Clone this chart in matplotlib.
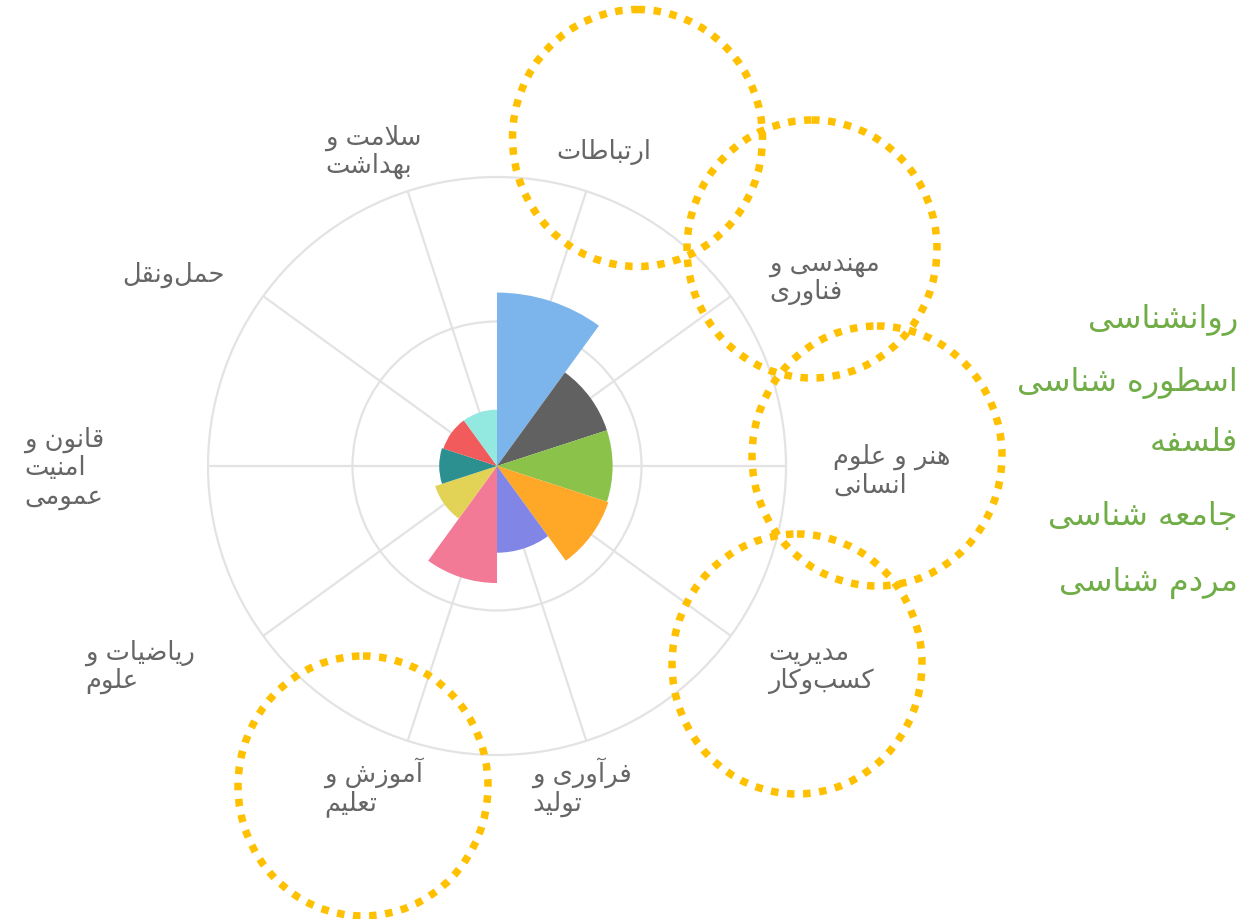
import numpy as np
import matplotlib
matplotlib.use("Agg")
import matplotlib.pyplot as plt
from matplotlib.patches import Ellipse

# ---------------- data ----------------
categories = ["ارتباطات", "مهندسی و\nفناوری", "هنر و علوم\nانسانی", "مدیریت\nکسب\u200cوکار",
              "فرآوری و\nتولید", "آموزش و\nتعلیم", "ریاضیات و\nعلوم", "قانون و\nامنیت\nعمومی",
              "حمل\u200cونقل", "سلامت و\nبهداشت"]
values = [12.0, 8.0, 8.0, 8.1, 6.0, 8.1, 4.5, 4.0, 3.9, 3.9]
colors = ["#7cb5ec", "#616161", "#8bc34a", "#ffa726", "#8085e6",
          "#f27a97", "#e2d356", "#2b908f", "#f25b5b", "#93e8e0"]
r_ticks = [10, 20]
side_list = ["روانشناسی", "اسطوره شناسی", "فلسفه", "جامعه شناسی", "مردم شناسی"]

# ---------------- layout (pixels) ----------------
W, H = 1246, 920
label_pos = [(556, 152), (769, 278), (833, 471), (768, 667), (532, 787),
             (324, 787), (85, 667), (24, 468), (122, 275), (325, 152)]
side_pos_y = [320, 383, 443, 517, 583]
side_right_x = 1238
highlight_circles = [(637.5, 139, 250, 257), (812, 250, 250, 258), (877, 457, 250, 260),
                     (797, 665, 250, 260), (363, 787, 250, 260)]

# ---------------- minimal Persian shaping ----------------
FORMS = {
    '\u0627': (0xFE8D, 0xFE8E, None, None), '\u0622': (0xFE81, 0xFE82, None, None),
    '\u0628': (0xFE8F, 0xFE90, 0xFE91, 0xFE92), '\u067E': (0xFB56, 0xFB57, 0xFB58, 0xFB59),
    '\u062A': (0xFE95, 0xFE96, 0xFE97, 0xFE98), '\u062B': (0xFE99, 0xFE9A, 0xFE9B, 0xFE9C),
    '\u062C': (0xFE9D, 0xFE9E, 0xFE9F, 0xFEA0), '\u0686': (0xFB7A, 0xFB7B, 0xFB7C, 0xFB7D),
    '\u062D': (0xFEA1, 0xFEA2, 0xFEA3, 0xFEA4), '\u062E': (0xFEA5, 0xFEA6, 0xFEA7, 0xFEA8),
    '\u062F': (0xFEA9, 0xFEAA, None, None), '\u0630': (0xFEAB, 0xFEAC, None, None),
    '\u0631': (0xFEAD, 0xFEAE, None, None), '\u0632': (0xFEAF, 0xFEB0, None, None),
    '\u0698': (0xFB8A, 0xFB8B, None, None),
    '\u0633': (0xFEB1, 0xFEB2, 0xFEB3, 0xFEB4), '\u0634': (0xFEB5, 0xFEB6, 0xFEB7, 0xFEB8),
    '\u0635': (0xFEB9, 0xFEBA, 0xFEBB, 0xFEBC), '\u0636': (0xFEBD, 0xFEBE, 0xFEBF, 0xFEC0),
    '\u0637': (0xFEC1, 0xFEC2, 0xFEC3, 0xFEC4), '\u0638': (0xFEC5, 0xFEC6, 0xFEC7, 0xFEC8),
    '\u0639': (0xFEC9, 0xFECA, 0xFECB, 0xFECC), '\u063A': (0xFECD, 0xFECE, 0xFECF, 0xFED0),
    '\u0641': (0xFED1, 0xFED2, 0xFED3, 0xFED4), '\u0642': (0xFED5, 0xFED6, 0xFED7, 0xFED8),
    '\u06A9': (0xFB8E, 0xFB8F, 0xFB90, 0xFB91), '\u06AF': (0xFB92, 0xFB93, 0xFB94, 0xFB95),
    '\u0644': (0xFEDD, 0xFEDE, 0xFEDF, 0xFEE0), '\u0645': (0xFEE1, 0xFEE2, 0xFEE3, 0xFEE4),
    '\u0646': (0xFEE5, 0xFEE6, 0xFEE7, 0xFEE8), '\u0647': (0xFEE9, 0xFEEA, 0xFEEB, 0xFEEC),
    '\u0648': (0xFEED, 0xFEEE, None, None), '\u06CC': (0xFBFC, 0xFBFD, 0xFBFE, 0xFBFF),
}
LAM_ALEF = {'\u0627': (0xFEFB, 0xFEFC), '\u0622': (0xFEF5, 0xFEF6)}


def _dual(c):
    return c in FORMS and FORMS[c][2] is not None


def shape_line(s):
    chars = list(s)
    n = len(chars)
    out = []
    i = 0
    while i < n:
        c = chars[i]
        if c not in FORMS:
            if c != '\u200c':
                out.append(c)
            i += 1
            continue
        jp = i > 0 and _dual(chars[i - 1])
        if c == '\u0644' and i + 1 < n and chars[i + 1] in LAM_ALEF:
            iso, fin = LAM_ALEF[chars[i + 1]]
            out.append(chr(fin if jp else iso))
            i += 2
            continue
        jn = _dual(c) and i + 1 < n and chars[i + 1] in FORMS
        f = FORMS[c]
        code = f[3] if (jp and jn) else f[1] if jp else f[2] if jn else f[0]
        out.append(chr(code))
        i += 1
    return ''.join(reversed(out))


def shape(s):
    return '\n'.join(shape_line(l) for l in s.split('\n'))


plt.rcParams['font.family'] = ['DejaVu Sans']

fig = plt.figure(figsize=(W / 100, H / 100), dpi=100)
fig.patch.set_facecolor('white')

# polar chart
cx, cy, R = 497, 467, 289
ax = fig.add_axes([(cx - R) / W, (H - cy - R) / H, 2 * R / W, 2 * R / H], projection='polar')
ax.set_theta_zero_location('N')
ax.set_theta_direction(-1)
n = len(values)
width = 2 * np.pi / n
theta = np.arange(n) * width + width / 2
ax.bar(theta, values, width=width, color=colors, linewidth=0, zorder=3)
ax.set_ylim(0, r_ticks[-1])
ax.set_yticks(r_ticks[:-1])
ax.set_yticklabels([])
ax.set_xticks(theta)
ax.set_xticklabels([])
ax.set_axisbelow(True)
ax.grid(True, color='#e3e3e3', linewidth=1.6)
ax.spines['polar'].set_color('#e3e3e3')
ax.spines['polar'].set_linewidth(1.6)
ax.set_facecolor('none')

# overlay in pixel coordinates
ov = fig.add_axes([0, 0, 1, 1])
ov.set_xlim(0, W)
ov.set_ylim(H, 0)
ov.axis('off')
ov.patch.set_alpha(0)

for lab, (x, y) in zip(categories, label_pos):
    ov.text(x, y, shape(lab), ha='left', va='center', multialignment='left',
            fontsize=18.5, color='#666666', linespacing=1.12)

for t, y in zip(side_list, side_pos_y):
    ov.text(side_right_x, y, shape(t), ha='right', va='center', fontsize=23, color='#70ad47')

for (ex, ey, ew, eh) in highlight_circles:
    ov.add_patch(Ellipse((ex, ey), ew, eh, fill=False, edgecolor='#ffc000',
                         linewidth=5.4, linestyle=(0, (1, 1.15)), zorder=10))

fig.savefig('out.png', dpi=100, facecolor='white')
